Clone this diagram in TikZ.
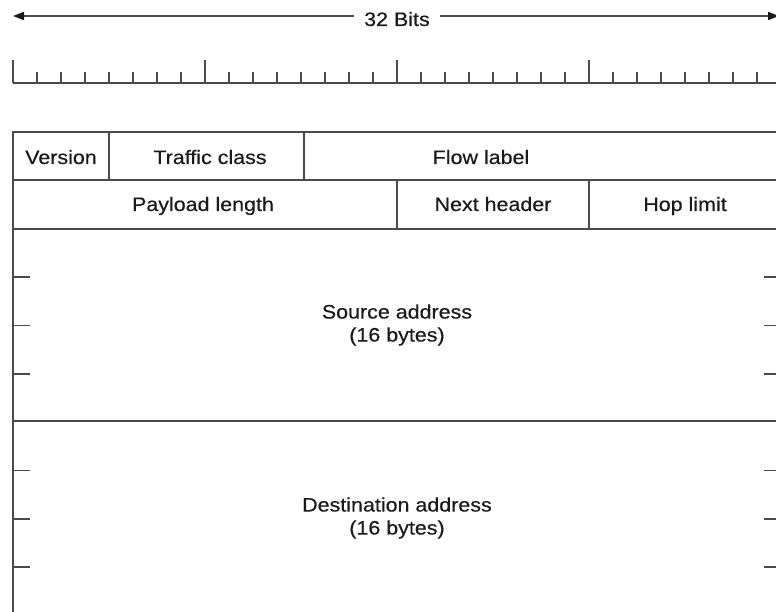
\documentclass[tikz,border=0pt]{standalone}
\usepackage{fontspec}
\setmainfont{Liberation Sans}[FakeStretch=1.1,FakeBold=0.4]
\usetikzlibrary{arrows.meta}
\definecolor{ln}{HTML}{4A4A4A}
\definecolor{tx}{HTML}{1A1A1A}
\tikzset{
  grid/.style={draw=ln, line width=1.7pt},
  tickl/.style={draw=ln, line width=1.9pt},
  lbl/.style={text=tx, font=\fontsize{19.5}{23}\selectfont, inner sep=0pt, align=center},
  bitarrow/.style={draw=ln, line width=1.7pt, -{Triangle[length=11pt,width=8pt,color=tx]}}
}
\begin{document}
\begin{tikzpicture}[x=1pt,y=-1pt]
\useasboundingbox (0,0) rectangle (776,612);
% 32 bits arrow
\node[lbl, anchor=base] (bits) at (397,26) {32 Bits};
\coordinate (aL) at (13,16);
\coordinate (aR) at (779,16);
\draw[bitarrow] (bits.west |- aL) ++(-10,0) -- (aL);
\draw[bitarrow] (bits.east |- aR) ++(10,0) -- (aR);
% ruler
\draw[tickl] (13,83) -- (790,83);
\foreach \i in {0,...,32}{
  \pgfmathtruncatemacro{\m}{mod(\i,8)}
  \ifnum\m=0
    \draw[tickl] (13+24*\i,83) -- (13+24*\i,60);
  \else
    \draw[tickl] (13+24*\i,83) -- (13+24*\i,72);
  \fi
}
% table
\draw[grid] (13,132) rectangle (781,615.3);
\draw[grid] (13,180.3) -- (781,180.3);
\draw[grid] (13,228.7) -- (781,228.7);
\draw[grid] (13,421.3) -- (781,421.3);
\draw[grid] (109,132) -- (109,180.3);
\draw[grid] (304,132) -- (304,180.3);
\draw[grid] (397,180.3) -- (397,228.7);
\draw[grid] (589,180.3) -- (589,228.7);
% side ticks
\foreach \k in {1,2,3,5,6,7}{
  \draw[grid] (13,228.7+\k*48.33) -- (30,228.7+\k*48.33);
  \draw[grid] (764,228.7+\k*48.33) -- (781,228.7+\k*48.33);
}
% labels
\node[lbl, anchor=base] (ver) at (61,164) {Version};
\node[lbl, anchor=base] (tc) at (210,164) {Traffic class};
\node[lbl, anchor=base] (fl) at (481,164) {Flow label};
\node[lbl, anchor=base] (pl) at (203,211) {Payload length};
\node[lbl, anchor=base] (nh) at (493,211) {Next header};
\node[lbl, anchor=base] (hl) at (685,211) {Hop limit};
\node[lbl] (src) at (397,325) {Source address\\(16 bytes)};
\node[lbl] (dst) at (397,518) {Destination address\\(16 bytes)};
\end{tikzpicture}
\end{document}
